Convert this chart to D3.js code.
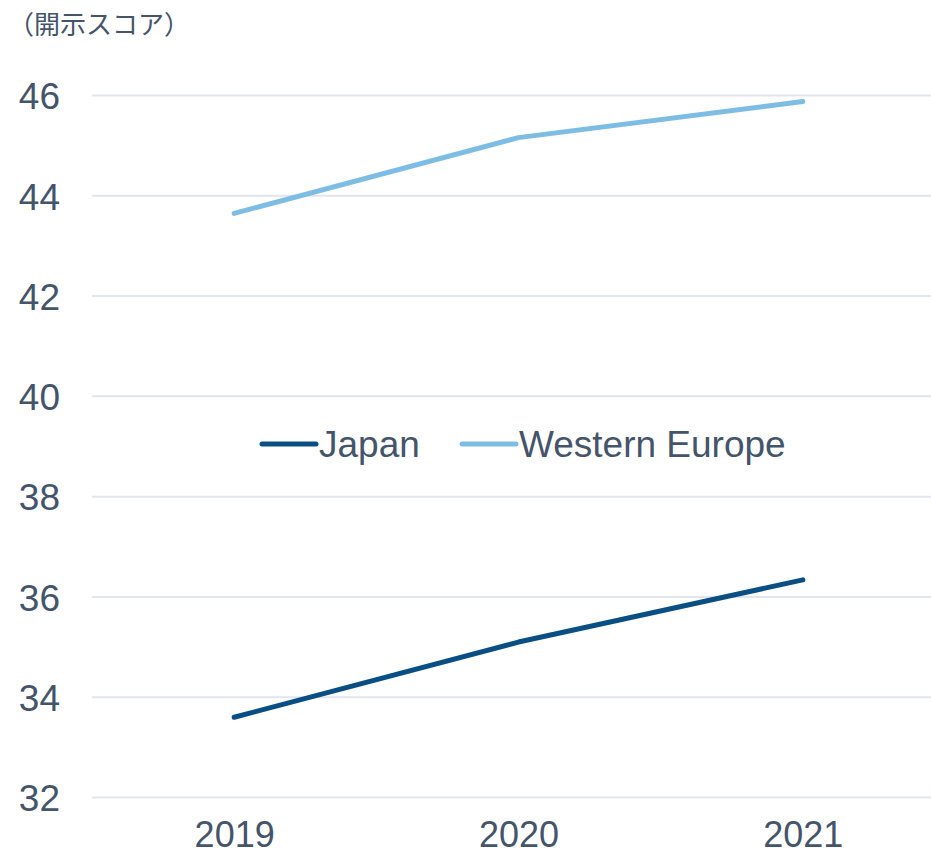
<!DOCTYPE html>
<html>
<head>
<meta charset="utf-8">
<script src="https://cdn.jsdelivr.net/npm/d3@7"></script>
<style>
  html, body { margin: 0; padding: 0; background: #fff; }
  svg { display: block; font-family: "Liberation Sans", Arial, sans-serif; }
</style>
</head>
<body>
<svg id="chart" width="931" height="856"></svg>
<script>
// Disclosure scores by region
const years = ["2019", "2020", "2021"];
const japan = [33.6, 35.1, 36.34];
const westernEurope = [43.65, 45.16, 45.88];
const yTicks = [32, 34, 36, 38, 40, 42, 44, 46];
const seriesNames = ["Japan", "Western Europe"];
const seriesColors = ["#0a4f84", "#7dbde4"];
const unitLabel = "（開示スコア）";

const svg = d3.select("#chart");
const textColor = "#44546a";

const x = d3.scalePoint().domain(years).range([92, 945]).padding(0.5);
const y = d3.scaleLinear().domain([32, 46]).range([797.5, 95.5]);

// horizontal gridlines
svg.append("g").selectAll("line").data(yTicks).join("line")
  .attr("x1", 92).attr("x2", 931)
  .attr("y1", d => y(d)).attr("y2", d => y(d))
  .attr("stroke", "#e1e5ec").attr("stroke-width", 2);

// y axis labels
const yAxis = svg.append("g").attr("transform", "translate(60,0)")
  .call(d3.axisLeft(y).tickValues(yTicks).tickSize(0).tickPadding(0));
yAxis.select(".domain").remove();
yAxis.selectAll("text")
  .attr("font-size", 37).attr("fill", textColor)
  .attr("font-family", "Liberation Sans, Arial, sans-serif")
  .attr("dy", "0.36em");

// x axis labels
const xAxis = svg.append("g").attr("transform", "translate(0,819)")
  .call(d3.axisBottom(x).tickSize(0).tickPadding(0));
xAxis.select(".domain").remove();
xAxis.selectAll("text")
  .attr("font-size", 36).attr("fill", textColor)
  .attr("font-family", "Liberation Sans, Arial, sans-serif")
  .attr("dy", "0.78em");

// unit label
svg.append("text")
  .attr("x", 8).attr("y", 34)
  .attr("font-family", "'Noto Sans CJK JP', sans-serif")
  .attr("font-size", 26).attr("fill", textColor)
  .text(unitLabel);

// series lines
const series = [japan, westernEurope];
const line = d3.line().x((d, i) => x(years[i])).y(d => y(d));
svg.append("g").selectAll("path").data(series).join("path")
  .attr("d", line)
  .attr("fill", "none")
  .attr("stroke", (d, i) => seriesColors[i])
  .attr("stroke-width", 5)
  .attr("stroke-linecap", "round")
  .attr("stroke-linejoin", "round");

// legend
const legendX = [262, 462];
const legend = svg.append("g").selectAll("g").data(seriesNames).join("g")
  .attr("transform", (d, i) => `translate(${legendX[i]},444)`);
legend.append("line")
  .attr("x1", 0).attr("x2", 54)
  .attr("stroke", (d, i) => seriesColors[i])
  .attr("stroke-width", 5).attr("stroke-linecap", "round");
legend.append("text")
  .attr("x", 57).attr("dy", "0.36em")
  .attr("font-size", 37).attr("fill", textColor)
  .text(d => d);
</script>
</body>
</html>
